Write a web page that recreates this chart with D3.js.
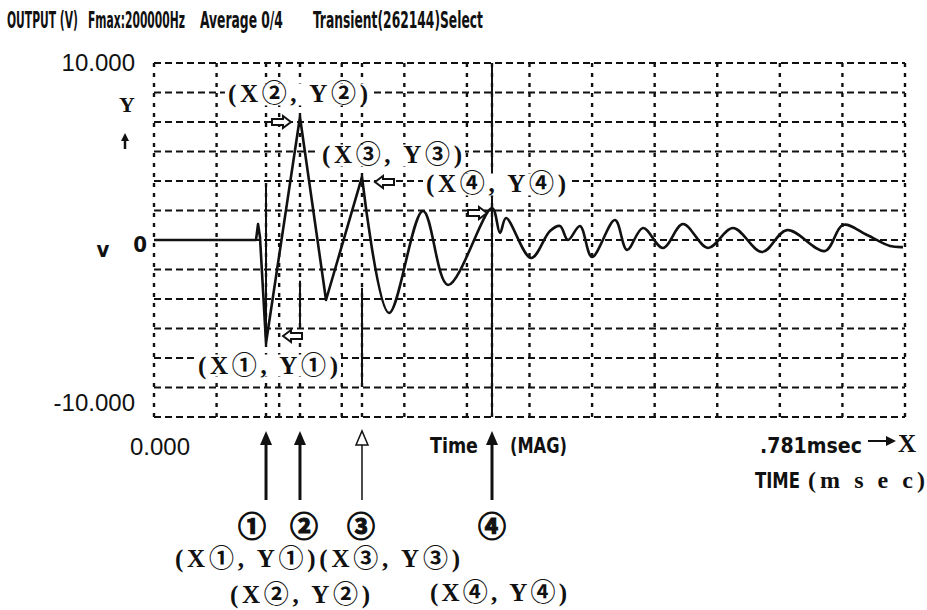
<!DOCTYPE html>
<html>
<head>
<meta charset="utf-8">
<script src="https://cdn.jsdelivr.net/npm/d3@7"></script>
<style>
	body { margin: 0; background: #fff; }
	svg { display: block; background: #fff; }
	.grid-h { stroke: #111; stroke-width: 2; stroke-dasharray: 7 4; }
	.grid-v { stroke: #111; stroke-width: 2.4; stroke-dasharray: 4 6; }
	.cursor-solid { stroke: #111; stroke-width: 2; }
	.trace { stroke: #111; stroke-width: 2.6; fill: none; stroke-linejoin: round; }
	.printer { font-family: "Liberation Sans Narrow", "DejaVu Sans Condensed", sans-serif; font-weight: bold; fill: #111; }
	.num { font-family: "Liberation Sans", "DejaVu Sans", sans-serif; fill: #111; }
	.serif { font-family: "Liberation Serif", "Noto Sans CJK JP", serif; font-weight: bold; fill: #111; }
	.circled { font-family: "Noto Sans CJK JP", "DejaVu Sans", sans-serif; font-weight: bold; fill: #111; stroke: #111; stroke-width: 1.2; }
	.hollow-arrow { fill: #fff; stroke: #111; stroke-width: 2; stroke-linejoin: miter; }
	.marker-arrow { stroke: #111; fill: none; }
</style>
</head>
<body>
<svg id="plot"></svg>
<script>
const WIDTH = 927;
const HEIGHT = 610;

const plot = d3.select("#plot").attr("width", WIDTH).attr("height", HEIGHT);

// axis range
const TIME_MAX = 0.781;
const V_MIN = -10;
const V_MAX = 10;
const GRID_DIVISIONS = 12;

// transient trace (msec, V)
const traceTime = [
	0, 0.1061, 0.1082, 0.1102, 0.1165, 0.1518, 0.1789, 0.2163, 0.2444, 0.2797,
	0.3057, 0.3515, 0.3598, 0.3661, 0.3921, 0.4118, 0.4222, 0.4305, 0.4430, 0.4555,
	0.4794, 0.4919, 0.5085, 0.5293, 0.5501, 0.5761, 0.6021, 0.6323, 0.6583, 0.6978,
	0.7165, 0.7415, 0.7654, 0.7789,
];
const traceVolts = [
	0, 0, 0.9, 0.17, -5.82, 6.95, -3.39, 3.56, -4.12, 1.64,
	-2.54, 1.81, 0.4, 1.24, -1.02, 0.51, 0.79, 0, 0.79, -0.96,
	1.13, -0.56, 0.68, -0.45, 0.9, -0.45, 0.68, -0.68, 0.56, -0.62,
	0.85, 0.28, -0.34, -0.4,
];
// the first sharp swings are drawn straight, the ringing after it smooth
const SHARP_END = 7;

// read-out cursors ①..④ point at these trace samples
const markerIndex = [4, 5, 7, 11];
const markerSymbols = ["①", "②", "③", "④"];
const markerLabels = markerSymbols.map(s => `(X${s}, Y${s})`);

const headerTexts = ["OUTPUT (V)", "Fmax:200000Hz", "Average 0/4", "Transient(262144)Select"];
const yTickLabels = ["10.000", "-10.000"];
const xTickLabels = ["0.000", ".781msec"];

const xScale = d3.scaleLinear([0, TIME_MAX], [154, 905]);
const yScale = d3.scaleLinear([V_MIN, V_MAX], [417, 63]);

const markers = markerIndex.map((idx, i) => ({
	symbol: markerSymbols[i],
	label: markerLabels[i],
	x: xScale(traceTime[idx]),
	y: yScale(traceVolts[idx]),
}));

// squeeze a text horizontally to a given width, like the narrow printer font
function squeeze(sel, width) {
	sel.each(function (d, i) {
		const node = this;
		const w = typeof width === "function" ? width(d, i) : width;
		const natural = node.getComputedTextLength();
		const x = +node.getAttribute("x");
		const k = w / natural;
		node.setAttribute("transform", `translate(${x},0) scale(${k},1) translate(${-x},0)`);
	});
	return sel;
}

// grid
const gridTimes = d3.range(GRID_DIVISIONS + 1).map(i => (i * TIME_MAX) / GRID_DIVISIONS);
const gridVolts = d3.range(GRID_DIVISIONS + 1).map(i => V_MIN + (i * (V_MAX - V_MIN)) / GRID_DIVISIONS);

const gridG = plot.append("g");
gridG.selectAll(".grid-h")
	.data(gridVolts)
	.join("line")
	.attr("class", "grid-h")
	.attr("x1", xScale(0))
	.attr("x2", xScale(TIME_MAX))
	.attr("y1", d => yScale(d))
	.attr("y2", d => yScale(d));
gridG.selectAll(".grid-v")
	.data(gridTimes)
	.join("line")
	.attr("class", "grid-v")
	.attr("x1", d => xScale(d))
	.attr("x2", d => xScale(d))
	.attr("y1", yScale(V_MAX))
	.attr("y2", yScale(V_MIN));

// cursor lines: dashed full height with a solid stretch (volts)
const cursorSolid = [[3.2, -5.8], [-2.3, -5.0], [-2.7, -8.3], [V_MAX, V_MIN]];
const cursorG = plot.append("g");
markers.forEach((m, i) => {
	cursorG.append("line")
		.attr("class", "grid-v")
		.attr("x1", m.x).attr("x2", m.x)
		.attr("y1", yScale(V_MAX)).attr("y2", yScale(V_MIN));
	cursorG.append("line")
		.attr("class", "cursor-solid")
		.attr("x1", m.x).attr("x2", m.x)
		.attr("y1", yScale(cursorSolid[i][0])).attr("y2", yScale(cursorSolid[i][1]));
});

// trace
const tracePoints = traceTime.map((t, i) => [xScale(t), yScale(traceVolts[i])]);
plot.append("path")
	.attr("class", "trace")
	.attr("d", d3.line()(tracePoints.slice(0, SHARP_END + 1)));
plot.append("path")
	.attr("class", "trace")
	.attr("d", d3.line().curve(d3.curveCatmullRom.alpha(0.5))(tracePoints.slice(SHARP_END)));

// in-plot read-out labels with hollow arrows
const labelLayout = [
	{ dx: 2, dy: 22, arrowDx: 17, arrowDy: -7, dir: -1 },
	{ dx: -2, dy: -23, arrowDx: -9, arrowDy: 5, dir: 1 },
	{ dx: 30, dy: -22, arrowDx: 13, arrowDy: 5, dir: -1 },
	{ dx: 4, dy: -24, arrowDx: -5, arrowDy: 5, dir: 1 },
];

function hollowArrow(tipX, tipY, dir) {
	// dir = 1 points right, -1 points left
	const p = [[0, 0], [-8, -6], [-8, -3], [-19, -3], [-19, 3], [-8, 3], [-8, 6]];
	return "M" + p.map(([x, y]) => [tipX + dir * x, tipY + y].join(",")).join("L") + "Z";
}

const labelG = plot.append("g");
markers.forEach((m, i) => {
	const lay = labelLayout[i];
	const g = labelG.append("g");
	const txt = g.append("text")
		.attr("class", "serif")
		.attr("x", m.x + lay.dx)
		.attr("y", m.y + lay.dy)
		.attr("text-anchor", "middle")
		.attr("dominant-baseline", "central")
		.attr("font-size", 25)
		.attr("textLength", 140)
		.attr("lengthAdjust", "spacing")
		.text(m.label);
	const bb = txt.node().getBBox();
	g.insert("rect", "text")
		.attr("x", bb.x - 3)
		.attr("y", bb.y + 3)
		.attr("width", bb.width + 6)
		.attr("height", bb.height - 6)
		.attr("fill", "#fff");
	labelG.append("path")
		.attr("class", "hollow-arrow")
		.attr("d", hollowArrow(m.x + lay.arrowDx, m.y + lay.arrowDy, lay.dir));
});

// header
const headerX = [7, 88, 200, 313];
const headerLen = [71, 97, 83, 170];
plot.selectAll(".header")
	.data(headerTexts)
	.join("text")
	.attr("class", "printer header")
	.attr("x", (d, i) => headerX[i])
	.attr("y", 28)
	.attr("font-size", 23)
	.text(d => d)
	.call(squeeze, (d, i) => headerLen[i]);

// y-axis labels
plot.append("text").attr("class", "num")
	.attr("x", 135).attr("y", yScale(V_MAX) + 8)
	.attr("text-anchor", "end").attr("font-size", 24)
	.text(yTickLabels[0]);
plot.append("text").attr("class", "num")
	.attr("x", 135).attr("y", yScale(V_MIN) - 6)
	.attr("text-anchor", "end").attr("font-size", 24)
	.text(yTickLabels[1]);
plot.append("text").attr("class", "printer")
	.attr("x", 147).attr("y", yScale(0) + 12)
	.attr("text-anchor", "end").attr("font-size", 22)
	.text("0");
plot.append("text").attr("class", "printer")
	.attr("x", 103).attr("y", yScale(0) + 17)
	.attr("text-anchor", "middle").attr("font-size", 22)
	.text("v");
plot.append("text").attr("class", "serif")
	.attr("x", 127).attr("y", 112)
	.attr("text-anchor", "middle").attr("font-size", 22)
	.text("Y");
plot.append("path")
	.attr("d", "M125,149V140")
	.attr("stroke", "#111").attr("stroke-width", 2.5);
plot.append("path")
	.attr("d", "M121,141L125,133L129,141Z")
	.attr("fill", "#111");

// x-axis labels
plot.append("text").attr("class", "num")
	.attr("x", xScale(0) - 24).attr("y", 455)
	.attr("font-size", 24)
	.text(xTickLabels[0]);
plot.append("text").attr("class", "printer")
	.attr("x", 760).attr("y", 453)
	.attr("font-size", 22)
	.text(xTickLabels[1])
	.call(squeeze, 102);
plot.append("path")
	.attr("d", "M868,441H888").attr("stroke", "#111").attr("stroke-width", 2);
plot.append("path")
	.attr("d", "M886,436L896,441L886,446Z").attr("fill", "#111");
plot.append("text").attr("class", "serif")
	.attr("x", 898).attr("y", 452)
	.attr("font-size", 25)
	.text("X");
plot.append("text").attr("class", "printer")
	.attr("x", 755).attr("y", 488)
	.attr("font-size", 22)
	.text("TIME")
	.call(squeeze, 45);
plot.append("text").attr("class", "serif")
	.attr("x", 808).attr("y", 488)
	.attr("font-size", 24)
	.attr("textLength", 117).attr("lengthAdjust", "spacing")
	.text("(m s e c)");

// time (MAG) under cursor ④
plot.append("text").attr("class", "printer")
	.attr("x", 430).attr("y", 453)
	.attr("font-size", 21)
	.text("Time")
	.call(squeeze, 48);
plot.append("text").attr("class", "printer")
	.attr("x", 510).attr("y", 453)
	.attr("font-size", 21)
	.text("(MAG)")
	.call(squeeze, 57);

// marker arrows below the plot
const arrowLayout = [
	{ symbolDx: -14, width: 3 },
	{ symbolDx: 4, width: 3 },
	{ symbolDx: -1, width: 1.5 },
	{ symbolDx: 0, width: 3 },
];
markers.forEach((m, i) => {
	const lay = arrowLayout[i];
	plot.append("line")
		.attr("class", "marker-arrow")
		.attr("stroke-width", lay.width)
		.attr("x1", m.x).attr("x2", m.x)
		.attr("y1", 500).attr("y2", 440);
	plot.append("path")
		.attr("d", `M${m.x - 6},${445}L${m.x},${431}L${m.x + 6},${445}Z`)
		.attr("fill", lay.width > 2 ? "#111" : "#fff")
		.attr("stroke", "#111")
		.attr("stroke-width", lay.width > 2 ? 0 : 1.5);
	plot.append("text").attr("class", "circled")
		.attr("x", m.x + lay.symbolDx).attr("y", 525)
		.attr("text-anchor", "middle").attr("dominant-baseline", "central")
		.attr("font-size", 28)
		.text(m.symbol);
});

// read-out legend lines below the plot
const legendLines = [
	{ text: markerLabels[0] + markerLabels[2], x: 175, y: 558, len: 285 },
	{ text: markerLabels[1], x: 230, y: 594, len: 140 },
	{ text: markerLabels[3], x: 430, y: 592, len: 137 },
];
plot.selectAll(".legend-line")
	.data(legendLines)
	.join("text")
	.attr("class", "serif legend-line")
	.attr("x", d => d.x)
	.attr("y", d => d.y)
	.attr("dominant-baseline", "central")
	.attr("font-size", 25)
	.attr("textLength", d => d.len)
	.attr("lengthAdjust", "spacing")
	.text(d => d.text);
</script>
</body>
</html>
